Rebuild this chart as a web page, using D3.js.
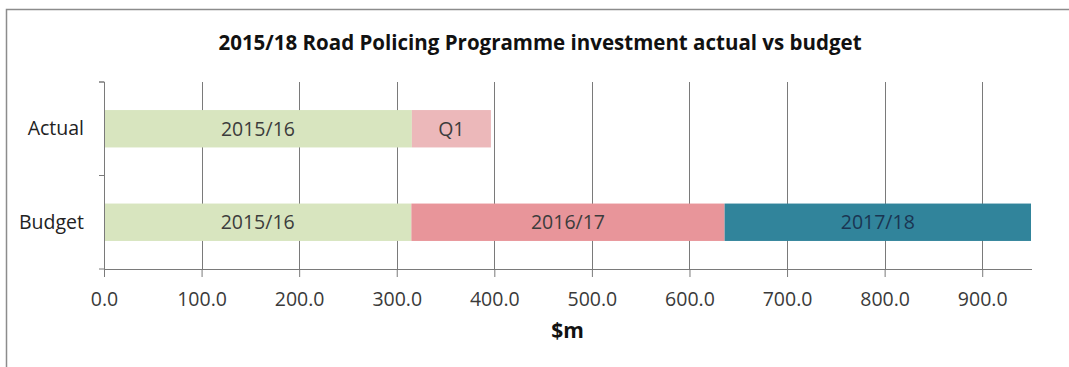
<!DOCTYPE html>
<html lang="en">
<head>
<meta charset="UTF-8">
<script src="https://cdnjs.cloudflare.com/ajax/libs/d3/7.8.5/d3.min.js"></script>
<style>
  body { margin: 0; background: #fff; }
  svg { display: block; font-family: "Open Sans", "Liberation Sans", sans-serif; }
</style>
</head>
<body>
<div id="chart"></div>
<script>
    // data ($m)
    const categories = ['Actual', 'Budget'];
    const actualLabels = ['2015/16', 'Q1'];
    const actualValues = [315.5, 81];
    const budgetLabels = ['2015/16', '2016/17', '2017/18'];
    const budgetValues = [315, 321, 314];
    const xTicks = [0, 100, 200, 300, 400, 500, 600, 700, 800, 900];

    const actualColors = ['#d8e5bf', '#ecb8ba'];
    const budgetColors = ['#d8e5bf', '#e8959a', '#31849b'];
    const budgetText = ['#3c3c3c', '#3c3c3c', '#1a3552'];

    const width = 1069;
    const height = 367;
    const plotLeft = 104, plotRight = 1031, plotTop = 82, plotBottom = 269;

    // stack segments per category
    function stack(labels, values, colors, texts) {
        let x0 = 0;
        return values.map((v, i) => {
            const seg = { label: labels[i], x0: x0, x1: x0 + v, color: colors[i], text: texts ? texts[i] : '#3c3c3c' };
            x0 += v;
            return seg;
        });
    }
    const rows = [
        { cat: 'Actual', segs: stack(actualLabels, actualValues, actualColors) },
        { cat: 'Budget', segs: stack(budgetLabels, budgetValues, budgetColors, budgetText) }
    ];

    const xScale = d3.scaleLinear().domain([0, 950]).range([plotLeft, plotRight]);
    const yScale = d3.scaleBand().domain(categories).range([plotTop, plotBottom]).paddingInner(0.6).paddingOuter(0.3);
    const bandFull = d3.scaleBand().domain(categories).range([plotTop, plotBottom]);

    const svg = d3.select('#chart')
        .append('svg')
        .attr('width', width)
        .attr('height', height);

    //Frame
    svg.append('rect')
        .attr('x', 6.5).attr('y', 9.5)
        .attr('width', 1100).attr('height', 400)
        .style('fill', '#fff')
        .style('stroke', '#8c8c8c')
        .style('stroke-width', 1.5);

    //Title
    svg.append('text')
        .attr('x', 540)
        .attr('y', 50)
        .attr('text-anchor', 'middle')
        .style('font-size', '20.5px')
        .style('font-weight', 'bold')
        .style('fill', '#111')
        .text('2015/18 Road Policing Programme investment actual vs budget');

    //Gridlines
    svg.append('g')
        .selectAll('line')
        .data(xTicks.filter(t => t > 0))
        .enter()
        .append('line')
        .attr('x1', d => Math.round(xScale(d)) + 0.5)
        .attr('x2', d => Math.round(xScale(d)) + 0.5)
        .attr('y1', plotTop)
        .attr('y2', plotBottom)
        .style('stroke', '#7a7a7a')
        .style('stroke-width', 1);

    //Bars
    const rowG = svg.selectAll('.row')
        .data(rows)
        .enter()
        .append('g')
        .attr('class', 'row');

    rowG.selectAll('rect')
        .data(r => r.segs.map(s => Object.assign({ cat: r.cat }, s)))
        .enter()
        .append('rect')
        .attr('x', d => xScale(d.x0))
        .attr('y', d => yScale(d.cat))
        .attr('width', d => xScale(d.x1) - xScale(d.x0))
        .attr('height', yScale.bandwidth())
        .style('fill', d => d.color);

    rowG.selectAll('text')
        .data(r => r.segs.map(s => Object.assign({ cat: r.cat }, s)))
        .enter()
        .append('text')
        .attr('x', d => (xScale(d.x0) + xScale(d.x1)) / 2)
        .attr('y', d => yScale(d.cat) + yScale.bandwidth() / 2)
        .attr('dy', '0.35em')
        .attr('text-anchor', 'middle')
        .style('font-size', '19.5px')
        .style('fill', d => d.text)
        .text(d => d.label);

    //Axis X
    const xAxis = d3.axisBottom(xScale)
        .tickValues(xTicks)
        .tickSize(8)
        .tickPadding(15)
        .tickFormat(d3.format('.1f'));
    const gx = svg.append('g')
        .attr('transform', `translate(0,${plotBottom})`)
        .call(xAxis);
    gx.select('.domain').attr('d', `M${plotLeft},0.5H${xScale(950) + 1}`);
    gx.selectAll('line').style('stroke', '#7a7a7a');
    gx.select('.domain').style('stroke', '#7a7a7a');
    gx.selectAll('text')
        .style('font-size', '19.5px')
        .style('font-family', '"Open Sans", sans-serif')
        .style('fill', '#3a3a3a');

    //Axis Y
    const yAxis = d3.axisLeft(bandFull).tickSize(0).tickPadding(20);
    const gy = svg.append('g')
        .attr('transform', `translate(${plotLeft},0)`)
        .call(yAxis);
    gy.select('.domain').attr('d', `M-5,${plotTop}H0.5V${plotBottom}`).style('stroke', '#7a7a7a');
    gy.selectAll('text')
        .style('font-size', '19.5px')
        .style('font-family', '"Open Sans", sans-serif')
        .style('fill', '#222');
    // category separator ticks
    gy.append('g')
        .selectAll('line')
        .data([plotTop, (plotTop + plotBottom) / 2, plotBottom])
        .enter()
        .append('line')
        .attr('x1', -5).attr('x2', 0)
        .attr('y1', d => d).attr('y2', d => d)
        .style('stroke', '#7a7a7a');

    //Axis title
    svg.append('text')
        .attr('x', (plotLeft + plotRight) / 2)
        .attr('y', 338)
        .attr('text-anchor', 'middle')
        .style('font-size', '21px')
        .style('font-weight', 'bold')
        .style('fill', '#111')
        .text('$m');
</script>
</body>
</html>
